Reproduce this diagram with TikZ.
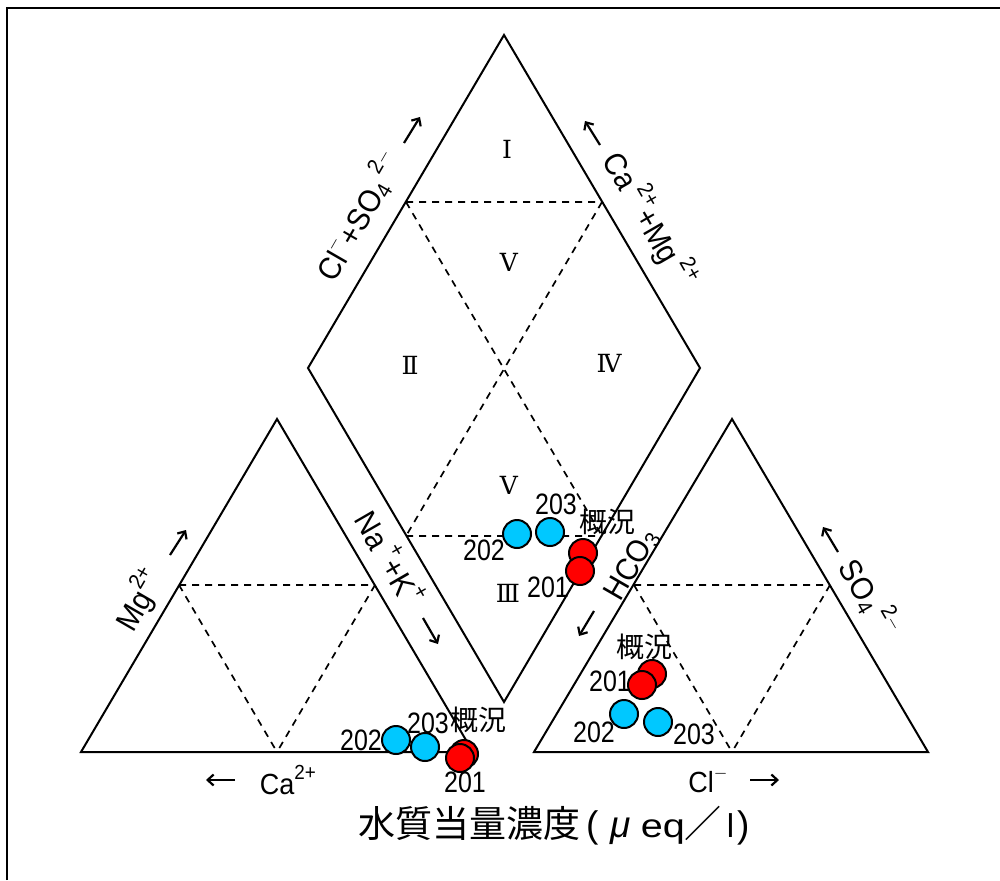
\documentclass[tikz,border=0pt]{standalone}
\usepackage{fontspec}
\setmainfont{Liberation Sans}
\newfontfamily\cjk{Noto Sans CJK JP}
\newfontfamily\romf{DejaVu Serif}
\newcommand{\up}[1]{\raisebox{0.5em}{\scalebox{0.7}{#1}}}
\newcommand{\dn}[1]{\raisebox{-0.12em}{\scalebox{0.7}{#1}}}
\newcommand{\tall}[1]{\scalebox{1}[1.08]{#1}}
\usetikzlibrary{arrows.meta}
\definecolor{dotblue}{RGB}{0,200,255}
\tikzset{
  solidline/.style={line width=2pt,line join=miter},
  dashline/.style={line width=1.7pt,dash pattern=on 7pt off 6pt},
  arrowline/.style={line width=2.2pt,-{Straight Barb[length=6pt,width=11pt]}},
  lab/.style={font=\fontsize{29}{30}\selectfont,inner sep=0pt},
  num/.style={font=\fontsize{25}{25}\selectfont,inner sep=0pt},
  rom/.style={font=\romf\fontsize{25}{25}\selectfont,inner sep=0pt},
  kan/.style={font=\cjk\fontsize{28}{28}\selectfont,inner sep=0pt},
  blue dot/.style={circle,draw=black,line width=2pt,fill=dotblue,minimum size=28pt,inner sep=0pt},
  red dot/.style={circle,draw=black,line width=2pt,fill=red,minimum size=28pt,inner sep=0pt},
}
\begin{document}
\begin{tikzpicture}[x=1pt,y=-1pt]
\useasboundingbox (0,0) rectangle (1000,880);
\fill[white] (0,0) rectangle (1000,880);
\draw[line width=1.5pt] (7,880) -- (7,8) -- (1000,8);
% named corners
\coordinate (dT) at (504,35); \coordinate (dR) at (700,368); \coordinate (dB) at (504,702); \coordinate (dL) at (308,368);
\coordinate (dUL) at (406,202); \coordinate (dUR) at (602,202); \coordinate (dLL) at (406,536); \coordinate (dLR) at (602,536);
\coordinate (lT) at (277,419); \coordinate (lL) at (81,752); \coordinate (lR) at (473,752);
\coordinate (lA) at (179,585); \coordinate (lB) at (375,585); \coordinate (lC) at (277,752);
\coordinate (rT) at (732,419); \coordinate (rL) at (534,752); \coordinate (rR) at (928,752);
\coordinate (rA) at (634,585); \coordinate (rB) at (830,585); \coordinate (rC) at (732,752);
% dashed
\draw[dashline] (dUL) -- (dUR) (dUL) -- (dLR) (dUR) -- (dLL) (dLL) -- (dLR);
\draw[dashline] (lA) -- (lB) (lA) -- (lC) (lB) -- (lC);
\draw[dashline] (rA) -- (rB) (rA) -- (rC) (rB) -- (rC);
% solid
\draw[solidline] (dT) -- (dR) -- (dB) -- (dL) -- cycle;
\draw[solidline] (lT) -- (lR) -- (lL) -- cycle;
\draw[solidline] (rT) -- (rR) -- (rL) -- cycle;
% roman
\node[rom] (r1) at (507,149) {Ⅰ};
\node[rom] (r5a) at (509,262) {Ⅴ};
\node[rom] (r2) at (410,365) {Ⅱ};
\node[rom] (r4) at (609,363) {Ⅳ};
\node[rom] (r5b) at (509,485) {Ⅴ};
\node[rom] (r3) at (508,593) {Ⅲ};
% rotated labels
\node[lab,rotate=60] (t1) at (358,216) {\tall{Cl\up{$-$}+SO\dn{4}\,\up{2$-$}}};
\node[lab,rotate=-60] (t2) at (650,219) {\tall{Ca\,\up{2+}+Mg\,\up{2+}}};
\node[lab,rotate=60] (t3) at (139,600) {\tall{Mg\up{2+}}};
\node[lab,rotate=-60] (t4) at (391,557) {\tall{Na\,\up{+}+K\up{+}}};
\node[lab,rotate=60] (t5) at (632,565) {\tall{HCO\dn{3}}};
\node[lab,rotate=-60] (t6) at (870,597) {\tall{SO\dn{4}\,\up{2$-$}}};
\node[lab,font=\fontsize{27}{27}\selectfont] (t7) at (288,780) {\tall{Ca\up{2+}}};
\node[lab,font=\fontsize{27}{27}\selectfont] (t8) at (708,780) {\tall{Cl\up{$-$}}};
\node[font=\fontsize{37}{37}\selectfont,inner sep=0pt,anchor=west] (title) at (358,826) {{\cjk 水質当量濃度}\kern6pt(\kern12pt\textit{μ}\kern10pt{\fontsize{33}{33}\selectfont\scalebox{1.2}[1]{eq}}{\cjk ／}\kern5pt{\fontsize{33}{33}\selectfont l}\kern3pt)};
% arrows
\coordinate (a1s) at (404,143); \coordinate (a1e) at (420,117);
\coordinate (a2s) at (600,145); \coordinate (a2e) at (585,121);
\coordinate (a3s) at (170,555); \coordinate (a3e) at (186,530);
\coordinate (a4s) at (423,618); \coordinate (a4e) at (438,644);
\coordinate (a5s) at (594,611); \coordinate (a5e) at (579,636);
\coordinate (a6s) at (838,552); \coordinate (a6e) at (823,527);
\coordinate (a7s) at (235,780); \coordinate (a7e) at (206,780);
\coordinate (a8s) at (750,780); \coordinate (a8e) at (779,780);
\foreach \n in {1,...,8} \draw[arrowline] (a\n s) -- (a\n e);
% dots: middle
\node[blue dot] (m202) at (517,534) {};
\node[blue dot] (m203) at (550,532) {};
\node[red dot] (m0) at (583,553) {};
\node[red dot] (m201) at (580,571) {};
\node[num] (ml2) at (484,550) {\scalebox{1}[1.18]{202}};
\node[num] (ml3) at (556,504) {\scalebox{1}[1.18]{203}};
\node[num] (ml1) at (548,587) {\scalebox{1}[1.18]{201}};
\node[kan] (mk) at (607,522) {概況};
% dots: left
\node[blue dot] (l202) at (396,740) {};
\node[blue dot] (l203) at (425,747) {};
\node[red dot] (l0) at (464,754) {};
\node[red dot] (l201) at (460,758) {};
\node[num] (ll2) at (361,740) {\scalebox{1}[1.18]{202}};
\node[num] (ll3) at (428,723) {\scalebox{1}[1.18]{203}};
\node[num] (ll1) at (465,782) {\scalebox{1}[1.18]{201}};
\node[kan] (lk) at (478,720) {概況};
% dots: right
\node[blue dot] (r202) at (624,714) {};
\node[blue dot] (r203) at (658,722) {};
\node[red dot] (r0) at (652,674) {};
\node[red dot] (r201) at (642,685) {};
\node[num] (rl2) at (594,732) {\scalebox{1}[1.18]{202}};
\node[num] (rl3) at (694,734) {\scalebox{1}[1.18]{203}};
\node[num] (rl1) at (610,681) {\scalebox{1}[1.18]{201}};
\node[kan] (rk) at (644,647) {概況};
\end{tikzpicture}
\end{document}
